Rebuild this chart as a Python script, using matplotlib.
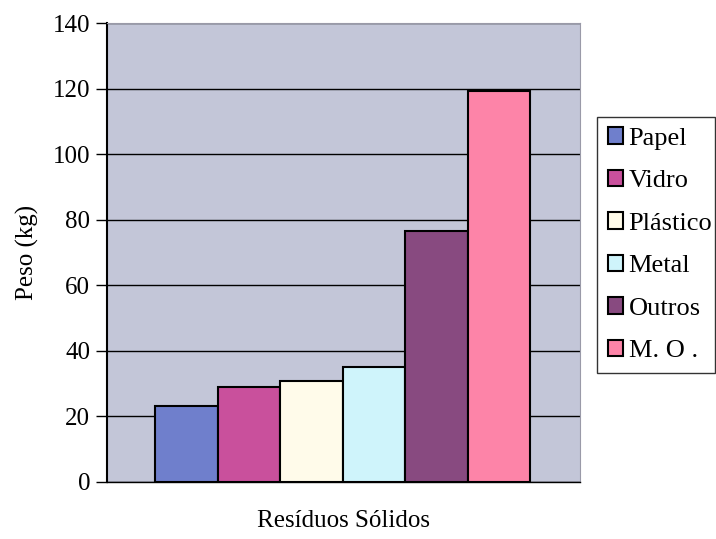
import matplotlib.pyplot as plt
import numpy as np

# Dados
categorias = ['Papel', 'Vidro', 'Plástico', 'Metal', 'Outros', 'M. O .']
pesos = [23.3, 29.0, 30.9, 35.0, 76.6, 119.2]
cores = ['#6f7fcc', '#c9509c', '#fffbea', '#cff4fb', '#884a80', '#fd84a8']

plt.rcParams['font.family'] = ['Liberation Serif', 'DejaVu Serif']

fig = plt.figure(figsize=(7.16, 5.39), dpi=100)
ax = fig.add_axes([107 / 716, 1 - 482 / 539, 473 / 716, 459 / 539])

x = np.arange(len(categorias))
for xi, p, c, nome in zip(x, pesos, cores, categorias):
    ax.bar(xi, p, width=1.0, color=c, edgecolor='black', linewidth=1.5,
           label=nome, zorder=3)

ax.set_facecolor('#c3c6d8')
ax.set_ylim(0, 140)
ax.set_xlim(-0.5 - 0.77, 5.5 + 0.8)
ax.set_yticks(range(0, 141, 20))
ax.set_xticks([])
ax.tick_params(axis='y', labelsize=18, length=8, width=1, direction='out', pad=4)
ax.yaxis.grid(True, color='black', linewidth=1, zorder=1)

for s in ['top', 'right']:
    ax.spines[s].set_color('#9a9aa8')
    ax.spines[s].set_linewidth(0.8)
ax.spines['left'].set_linewidth(1.5)
ax.spines['bottom'].set_linewidth(1.0)

ax.set_ylabel('Peso (kg)', fontsize=18, labelpad=10)
ax.set_xlabel('Resíduos Sólidos', fontsize=18, labelpad=20)

leg = fig.legend(loc='upper left',
                 bbox_to_anchor=(597 / 716, 1 - 122 / 539, 118 / 716, 0.01),
                 mode='expand', fontsize=19, frameon=True, fancybox=False,
                 edgecolor='black', handlelength=0.6, handleheight=0.6,
                 handletextpad=0.2, labelspacing=0.75, borderpad=0.4,
                 borderaxespad=0)
leg.get_frame().set_linewidth(1.0)

plt.savefig('out.png', dpi=100)
